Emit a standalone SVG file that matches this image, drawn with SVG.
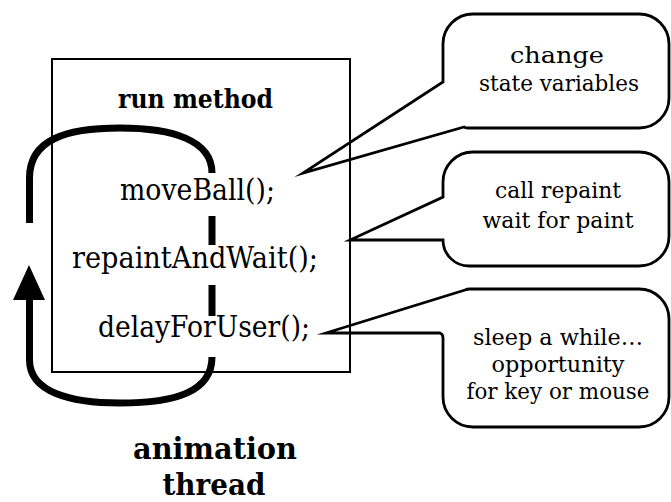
<svg xmlns="http://www.w3.org/2000/svg" width="671" height="502" viewBox="0 0 671 502">
<style>
text{font-family:'DejaVu Serif','Liberation Serif',serif;fill:#000;text-anchor:middle}
.code{font-size:29px}
.bub{font-size:23px}
.bold{font-weight:bold}
.loop{fill:none;stroke:#000;stroke-width:7}
.bubble{fill:none;stroke:#000;stroke-width:2.8;stroke-linejoin:miter;stroke-miterlimit:12}
</style>
<rect x="0" y="0" width="671" height="502" fill="#fff"/>
<g id="run-method">
<rect x="52" y="59" width="298" height="313" fill="none" stroke="#000" stroke-width="2"/>
<text class="bold" x="195.5" y="108" font-size="26" textLength="155" lengthAdjust="spacingAndGlyphs">run method</text>
<text class="code" x="197.5" y="200" textLength="155" lengthAdjust="spacingAndGlyphs">moveBall();</text>
<text class="code" x="195" y="268" textLength="246" lengthAdjust="spacingAndGlyphs">repaintAndWait();</text>
<text class="code" x="204" y="337" textLength="212" lengthAdjust="spacingAndGlyphs">delayForUser();</text>
</g>
<g id="connectors">
<path class="loop" d="M29.5,223 L29.5,178 C29.5,140 65,128 120,128 C172,128 212,140 212,173"/>
<path class="loop" d="M212,216 L212,245 M212,285 L212,316"/>
<path class="loop" d="M29.5,298 L29.5,360 C29.5,392 70,403 120,403 C175,403 212,392 212,357"/>
<polygon points="29,265 13,300 45,300" fill="#000"/>
</g>
<g id="bubble-change">
<path class="bubble" d="M443,82 L443,44 A30,30 0 0 1 473,14 L639,14 A30,30 0 0 1 669,44 L669,98 A30,30 0 0 1 639,128 L468,128 Q465,128 464,127 L303,173 Z"/>
<text class="bub" x="557" y="63" textLength="94" lengthAdjust="spacingAndGlyphs">change</text>
<text class="bub" x="559" y="91" textLength="160" lengthAdjust="spacingAndGlyphs">state variables</text>
</g>
<g id="bubble-repaint">
<path class="bubble" d="M443,197 L443,182 A30,30 0 0 1 473,152 L639,152 A30,30 0 0 1 669,182 L669,236 A30,30 0 0 1 639,266 L469,266 A26,26 0 0 1 443,240 L350,240 Z"/>
<text class="bub" x="558" y="198" textLength="126" lengthAdjust="spacingAndGlyphs">call repaint</text>
<text class="bub" x="558" y="228" textLength="151" lengthAdjust="spacingAndGlyphs">wait for paint</text>
</g>
<g id="bubble-sleep">
<path class="bubble" d="M326,333 L465,290 Q467,289 470,289 L639,289 A30,30 0 0 1 669,319 L669,397 A30,30 0 0 1 639,427 L473,427 A30,30 0 0 1 443,397 L443,338 Q443,334 440,333 Z"/>
<text class="bub" x="558" y="345" textLength="170" lengthAdjust="spacingAndGlyphs">sleep a while…</text>
<text class="bub" x="558" y="372" textLength="133" lengthAdjust="spacingAndGlyphs">opportunity</text>
<text class="bub" x="558" y="399" textLength="183" lengthAdjust="spacingAndGlyphs">for key or mouse</text>
</g>
<g id="animation-thread">
<text class="bold" x="215" y="459" font-size="30" textLength="164" lengthAdjust="spacingAndGlyphs">animation</text>
<text class="bold" x="214" y="495" font-size="30" textLength="103" lengthAdjust="spacingAndGlyphs">thread</text>
</g>
</svg>
